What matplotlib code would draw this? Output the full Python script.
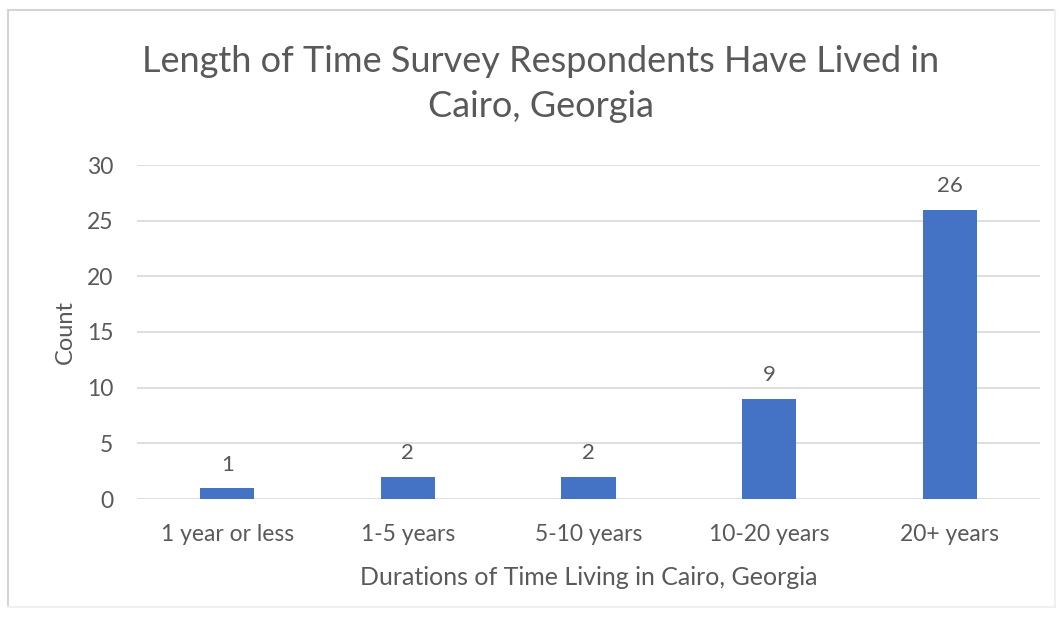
import matplotlib.pyplot as plt
from matplotlib.lines import Line2D

# survey counts by length of residence
categories = ["1 year or less", "1-5 years", "5-10 years", "10-20 years", "20+ years"]
counts = [1, 2, 2, 9, 26]
yticks = [0, 5, 10, 15, 20, 25, 30]

plt.rcParams['font.family'] = ['Lato', 'DejaVu Sans']
grey = '#595959'

fig = plt.figure(figsize=(10.62, 6.22), dpi=100)

# chart frame: left/top edges show up stronger than right/bottom
W, H = 1062, 622
l, r, t, b = 8 / W, 1055 / W, 1 - 10 / H, 1 - 607 / H
fig.lines.append(Line2D([l, l], [b, t], transform=fig.transFigure, color='#d4d4d4', lw=1.5))
fig.lines.append(Line2D([l, r], [t, t], transform=fig.transFigure, color='#d4d4d4', lw=1.5))
fig.lines.append(Line2D([r, r], [b, t], transform=fig.transFigure, color='#f0f0f0', lw=1.5))
fig.lines.append(Line2D([l, r], [b, b], transform=fig.transFigure, color='#f0f0f0', lw=1.5))

ax = fig.add_axes([137 / W, 1 - 499 / H, 903 / W, 334 / H])
x = range(len(categories))
bars = ax.bar(x, counts, width=0.3, color='#4472C4', zorder=3)
for bar, c in zip(bars, counts):
    ax.text(bar.get_x() + bar.get_width() / 2, c + 1.2, str(c), ha='center', va='bottom',
            fontsize=16, color=grey)

ax.set_xlim(-0.5, len(categories) - 0.5)
ax.set_ylim(0, 30)
ax.set_yticks(yticks)
ax.set_xticks(list(x))
ax.set_xticklabels(categories)
ax.tick_params(axis='both', length=0, labelsize=16.5, labelcolor=grey)
ax.tick_params(axis='x', pad=18)
ax.tick_params(axis='y', pad=17)
ax.grid(axis='y', color='#d9d9d9', linewidth=1.2, zorder=0)
for s in ax.spines.values():
    s.set_visible(False)

ax.set_xlabel("Durations of Time Living in Cairo, Georgia", fontsize=18, color=grey, labelpad=15)
ax.set_ylabel("Count", fontsize=17, color=grey, labelpad=8)
fig.text(541 / W, 1 - 84 / H,
         "Length of Time Survey Respondents Have Lived in\nCairo, Georgia",
         ha='center', va='center', fontsize=26, color=grey, linespacing=1.45)

fig.savefig('out.png', dpi=100)
